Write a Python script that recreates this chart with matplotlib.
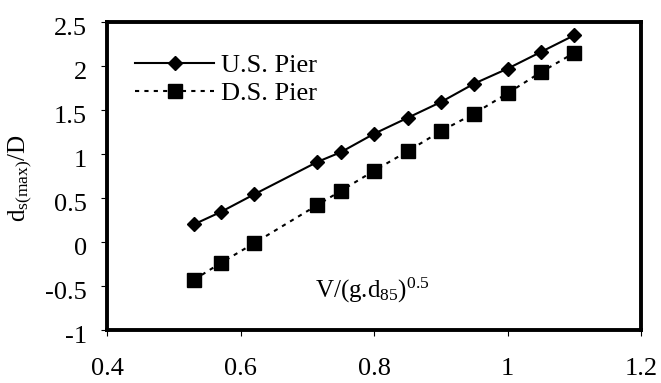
import matplotlib
matplotlib.use("Agg")
import matplotlib.pyplot as plt
from matplotlib.transforms import ScaledTranslation

plt.rcParams['font.family'] = ['Liberation Serif', 'DejaVu Serif']
plt.rcParams['mathtext.fontset'] = 'custom'
plt.rcParams['mathtext.rm'] = 'Liberation Serif'
plt.rcParams['mathtext.it'] = 'Liberation Serif:italic'

# Froude-type number V/(g.d85)^0.5
froude = [0.53, 0.57, 0.62, 0.715, 0.75, 0.80, 0.85, 0.90, 0.95, 1.00, 1.05, 1.10]
# Relative maximum scour depth ds(max)/D
us_pier = [0.20, 0.34, 0.54, 0.91, 1.02, 1.23, 1.41, 1.59, 1.80, 1.97, 2.16, 2.35]
ds_pier = [-0.43, -0.24, -0.015, 0.42, 0.58, 0.81, 1.03, 1.26, 1.46, 1.69, 1.93, 2.15]

x_ticks = [0.4, 0.6, 0.8, 1.0, 1.2]
x_tick_labels = ['0.4', '0.6', '0.8', '1', '1.2']
y_ticks = [-1, -0.5, 0, 0.5, 1, 1.5, 2, 2.5]
y_tick_labels = ['-1', '-0.5', '0', '0.5', '1', '1.5', '2', '2.5']

FS = 19

fig = plt.figure(figsize=(6.61, 3.83), dpi=100)
ax = fig.add_axes([0.162, 0.1384, 0.808, 0.8042])

ax.plot(froude, us_pier, color='black', lw=1.5, marker='D', ms=6.8,
        label='U.S. Pier')
ax.plot(froude, ds_pier, color='black', lw=1.5, linestyle=(0, (2, 2.5)),
        marker='s', ms=9.5, label='D.S. Pier')

ax.set_xlim(0.4, 1.2)
ax.set_ylim(-1, 2.5)
ax.set_xticks(x_ticks)
ax.set_xticklabels(x_tick_labels)
ax.set_yticks(y_ticks)
ax.set_yticklabels(y_tick_labels)
ax.tick_params(axis='x', direction='out', length=4.5, width=0.8, pad=16,
               labelsize=FS)
ax.tick_params(axis='y', direction='out', length=4.5, width=0.8, pad=10,
               labelsize=FS)
for sp in ax.spines.values():
    sp.set_linewidth(2.8)

# nudge the y tick labels slightly below their ticks
shift = ScaledTranslation(0, -3 / 72, fig.dpi_scale_trans)
for lbl in ax.get_yticklabels():
    lbl.set_transform(lbl.get_transform() + shift)

ax.legend(loc='upper left', bbox_to_anchor=(0.0, 0.987), frameon=False,
          fontsize=FS, handlelength=3.0, handletextpad=0.27,
          labelspacing=0.17, borderpad=0.4, borderaxespad=0.66)

ax.text(0.712, -0.636, r'V/(g.d$_{85}$)$^{0.5}$', fontsize=18,
        ha='left', va='baseline')
fig.text(0.03, 0.535, r'd$_{\mathrm{s(max)}}$/D', rotation=90, fontsize=18,
         ha='center', va='center')

fig.savefig('out.png', dpi=100)
